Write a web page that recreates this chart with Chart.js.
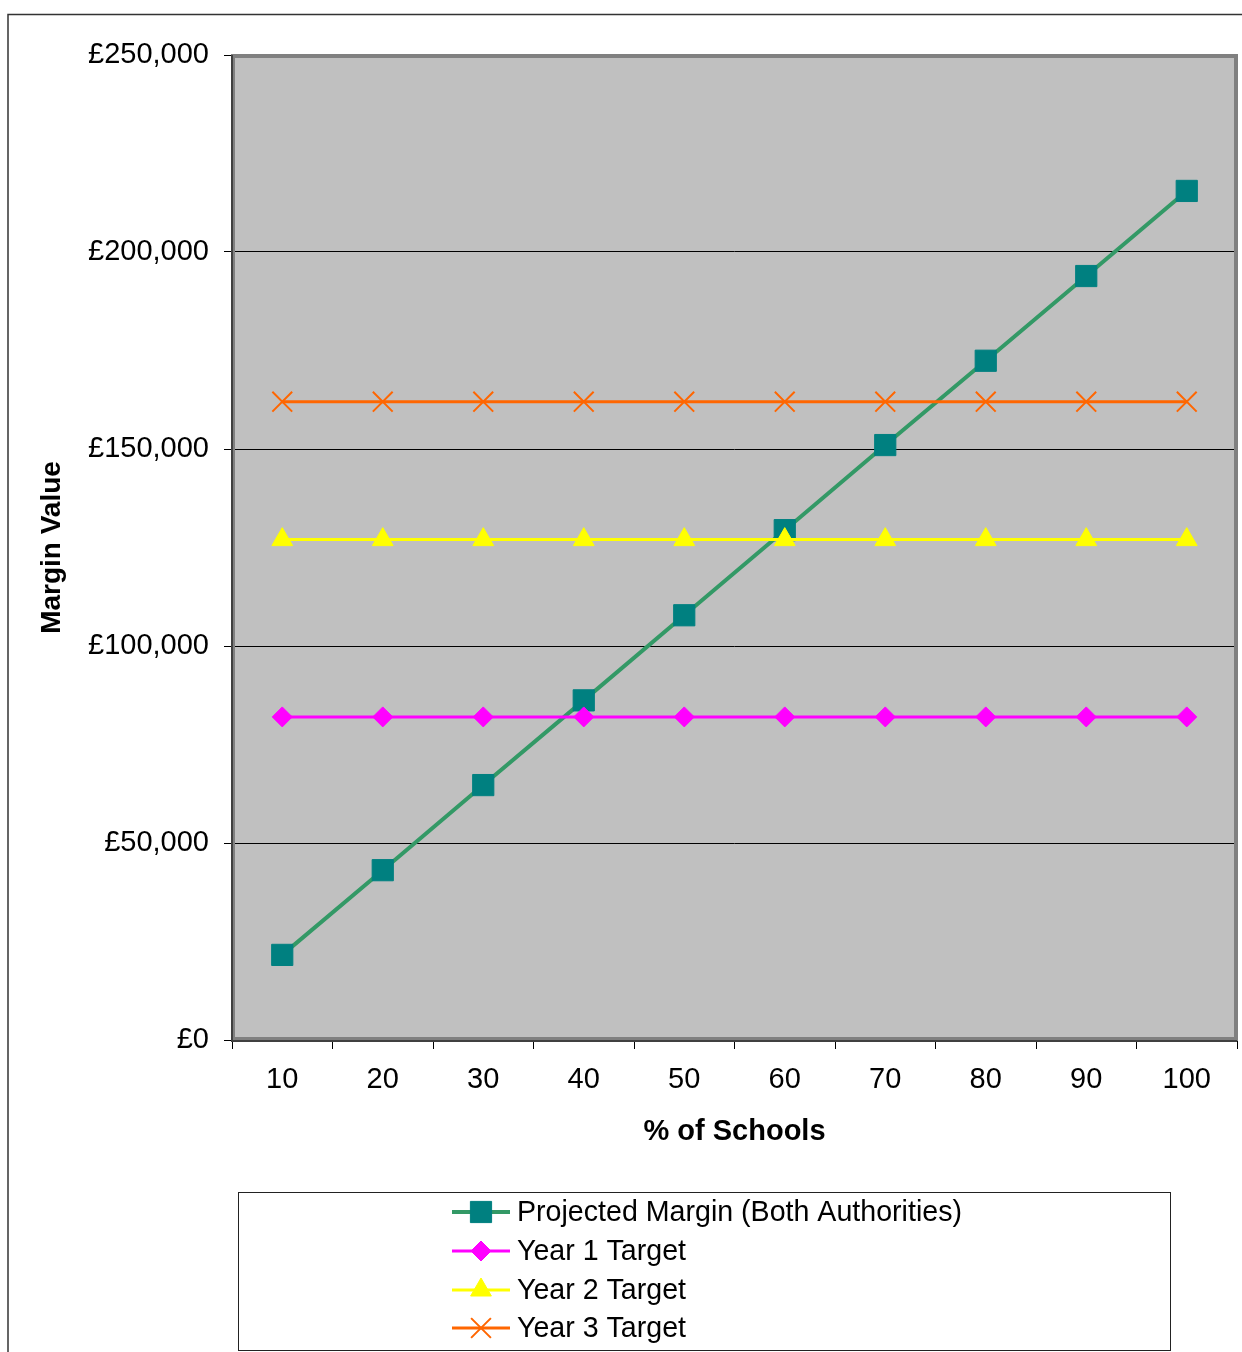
<!DOCTYPE html>
<html>
<head>
<meta charset="utf-8">
<script src="https://cdn.jsdelivr.net/npm/chart.js@4/dist/chart.umd.min.js"></script>
<style>
  html, body { margin: 0; padding: 0; background: #fff; }
  #wrap { width: 1242px; height: 1352px; position: relative; }
</style>
</head>
<body>
<div id="wrap"><canvas id="c" width="1242" height="1352"></canvas></div>
<script>
const categories = ['10', '20', '30', '40', '50', '60', '70', '80', '90', '100'];
const projectedMargin = [21600, 43100, 64700, 86200, 107800, 129400, 151000, 172400, 193900, 215500];
const year1Target = [82000, 82000, 82000, 82000, 82000, 82000, 82000, 82000, 82000, 82000];
const year2Target = [127000, 127000, 127000, 127000, 127000, 127000, 127000, 127000, 127000, 127000];
const year3Target = [162000, 162000, 162000, 162000, 162000, 162000, 162000, 162000, 162000, 162000];
const seriesNames = ['Projected Margin (Both Authorities)', 'Year 1 Target', 'Year 2 Target', 'Year 3 Target'];
const yMin = 0, yMax = 250000, yStep = 50000;
const xTitle = '% of Schools';
const yTitle = 'Margin Value';

const FONT = "'Liberation Sans', Arial, sans-serif";

function drawMarker(ctx, style, x, y, r, fill, stroke, bw) {
  ctx.save();
  ctx.fillStyle = fill; ctx.strokeStyle = stroke; ctx.lineWidth = bw;
  ctx.beginPath();
  if (style === 'rect') {
    const s = Math.SQRT1_2 * r;
    ctx.rect(x - s, y - s, 2 * s, 2 * s);
    ctx.fill(); ctx.stroke();
  } else if (style === 'rectRot') {
    ctx.moveTo(x, y - r); ctx.lineTo(x + r, y); ctx.lineTo(x, y + r); ctx.lineTo(x - r, y); ctx.closePath();
    ctx.fill(); ctx.stroke();
  } else if (style === 'triangle') {
    ctx.moveTo(x, y - r);
    ctx.lineTo(x + Math.sin(2 * Math.PI / 3) * r, y - Math.cos(2 * Math.PI / 3) * r);
    ctx.lineTo(x + Math.sin(4 * Math.PI / 3) * r, y - Math.cos(4 * Math.PI / 3) * r);
    ctx.closePath(); ctx.fill(); ctx.stroke();
  } else if (style === 'crossRot') {
    const d = Math.SQRT1_2 * r;
    ctx.moveTo(x - d, y - d); ctx.lineTo(x + d, y + d);
    ctx.moveTo(x + d, y - d); ctx.lineTo(x - d, y + d);
    ctx.stroke();
  }
  ctx.restore();
}

const framePlugin = {
  id: 'frame',
  beforeDraw(chart) {
    const ctx = chart.ctx, a = chart.chartArea;
    ctx.save();
    ctx.strokeStyle = '#333';
    ctx.lineWidth = 1.5;
    ctx.beginPath();
    ctx.moveTo(8, 1352); ctx.lineTo(8, 14.5); ctx.lineTo(1242, 14.5);
    ctx.stroke();
    ctx.fillStyle = '#C0C0C0';
    ctx.fillRect(a.left, a.top, a.right - a.left, a.bottom - a.top);
    ctx.restore();
  },
  beforeDatasetsDraw(chart) {
    const ctx = chart.ctx, a = chart.chartArea;
    ctx.save();
    ctx.strokeStyle = '#808080';
    ctx.lineWidth = 4;
    ctx.strokeRect(a.left + 1, a.top + 1, a.right - a.left - 2, a.bottom - a.top - 2);
    ctx.strokeStyle = '#404040';
    ctx.lineWidth = 2;
    ctx.beginPath();
    ctx.moveTo(a.left, a.top); ctx.lineTo(a.left, a.bottom + 1); ctx.lineTo(a.right, a.bottom + 1);
    ctx.stroke();
    ctx.restore();
  },
  afterDraw(chart) {
    const ctx = chart.ctx;
    ctx.save();
    ctx.strokeStyle = '#222';
    ctx.lineWidth = 1;
    ctx.strokeRect(238.5, 1192.5, 932, 158);
    const rows = [1212, 1251, 1290, 1328];
    chart.data.datasets.forEach((ds, i) => {
      const y = rows[i];
      ctx.strokeStyle = ds.borderColor;
      ctx.lineWidth = ds.borderWidth;
      ctx.beginPath(); ctx.moveTo(452, y); ctx.lineTo(510, y); ctx.stroke();
      drawMarker(ctx, ds.pointStyle, 481, y, ds.pointRadius, ds.pointBackgroundColor, ds.pointBorderColor, ds.pointBorderWidth);
      ctx.fillStyle = '#000';
      ctx.font = '28.6px ' + FONT;
      ctx.textBaseline = 'middle';
      ctx.textAlign = 'left';
      ctx.fillText(seriesNames[i], 517, y + 1);
    });
    ctx.restore();
  }
};

new Chart(document.getElementById('c'), {
  type: 'line',
  data: {
    labels: categories,
    datasets: [
      { label: seriesNames[0], data: projectedMargin, borderColor: '#339966', borderWidth: 4,
        pointStyle: 'rect', pointRadius: 15, pointBackgroundColor: '#008080', pointBorderColor: '#008080', pointBorderWidth: 1, order: 4 },
      { label: seriesNames[1], data: year1Target, borderColor: '#FF00FF', borderWidth: 3,
        pointStyle: 'rectRot', pointRadius: 10, pointBackgroundColor: '#FF00FF', pointBorderColor: '#FF00FF', pointBorderWidth: 1, order: 3 },
      { label: seriesNames[2], data: year2Target, borderColor: '#FFFF00', borderWidth: 3,
        pointStyle: 'triangle', pointRadius: 12, pointBackgroundColor: '#FFFF00', pointBorderColor: '#FFFF00', pointBorderWidth: 1, order: 2 },
      { label: seriesNames[3], data: year3Target, borderColor: '#FF6600', borderWidth: 3,
        pointStyle: 'crossRot', pointRadius: 14, pointBackgroundColor: '#FF6600', pointBorderColor: '#FF6600', pointBorderWidth: 2, order: 1 }
    ]
  },
  options: {
    responsive: false,
    animation: false,
    devicePixelRatio: 1,
    layout: { autoPadding: false, padding: { left: 0, top: 55, right: 5, bottom: 182 } },
    plugins: { legend: { display: false }, tooltip: { enabled: false }, title: { display: false } },
    elements: { line: { tension: 0 }, point: { hoverRadius: 0 } },
    scales: {
      x: {
        type: 'category',
        offset: true,
        grid: { offset: true, drawOnChartArea: false, drawTicks: true, tickLength: 9, color: '#000', lineWidth: 1 },
        border: { display: false },
        ticks: { color: '#000', font: { family: FONT, size: 29 }, padding: 14, maxRotation: 0 },
        title: { display: true, text: xTitle, color: '#000', font: { family: FONT, size: 29, weight: 'bold' }, padding: { top: 0, bottom: 21 } },
        afterFit(scale) { scale.height = 130; scale.paddingLeft = 0; scale.paddingRight = 0; }
      },
      y: {
        min: yMin, max: yMax,
        ticks: { stepSize: yStep, color: '#000', font: { family: FONT, size: 29 }, padding: 15,
          callback: v => '£' + Number(v).toLocaleString('en-GB') },
        grid: { color: '#000', lineWidth: 1, tickLength: 8, drawTicks: true },
        border: { display: false },
        title: { display: true, text: yTitle, color: '#000', font: { family: FONT, size: 28, weight: 'bold' }, padding: { top: 35, bottom: 0 } },
        afterFit(scale) { scale.width = 232; }
      }
    }
  },
  plugins: [framePlugin]
});
</script>
</body>
</html>
